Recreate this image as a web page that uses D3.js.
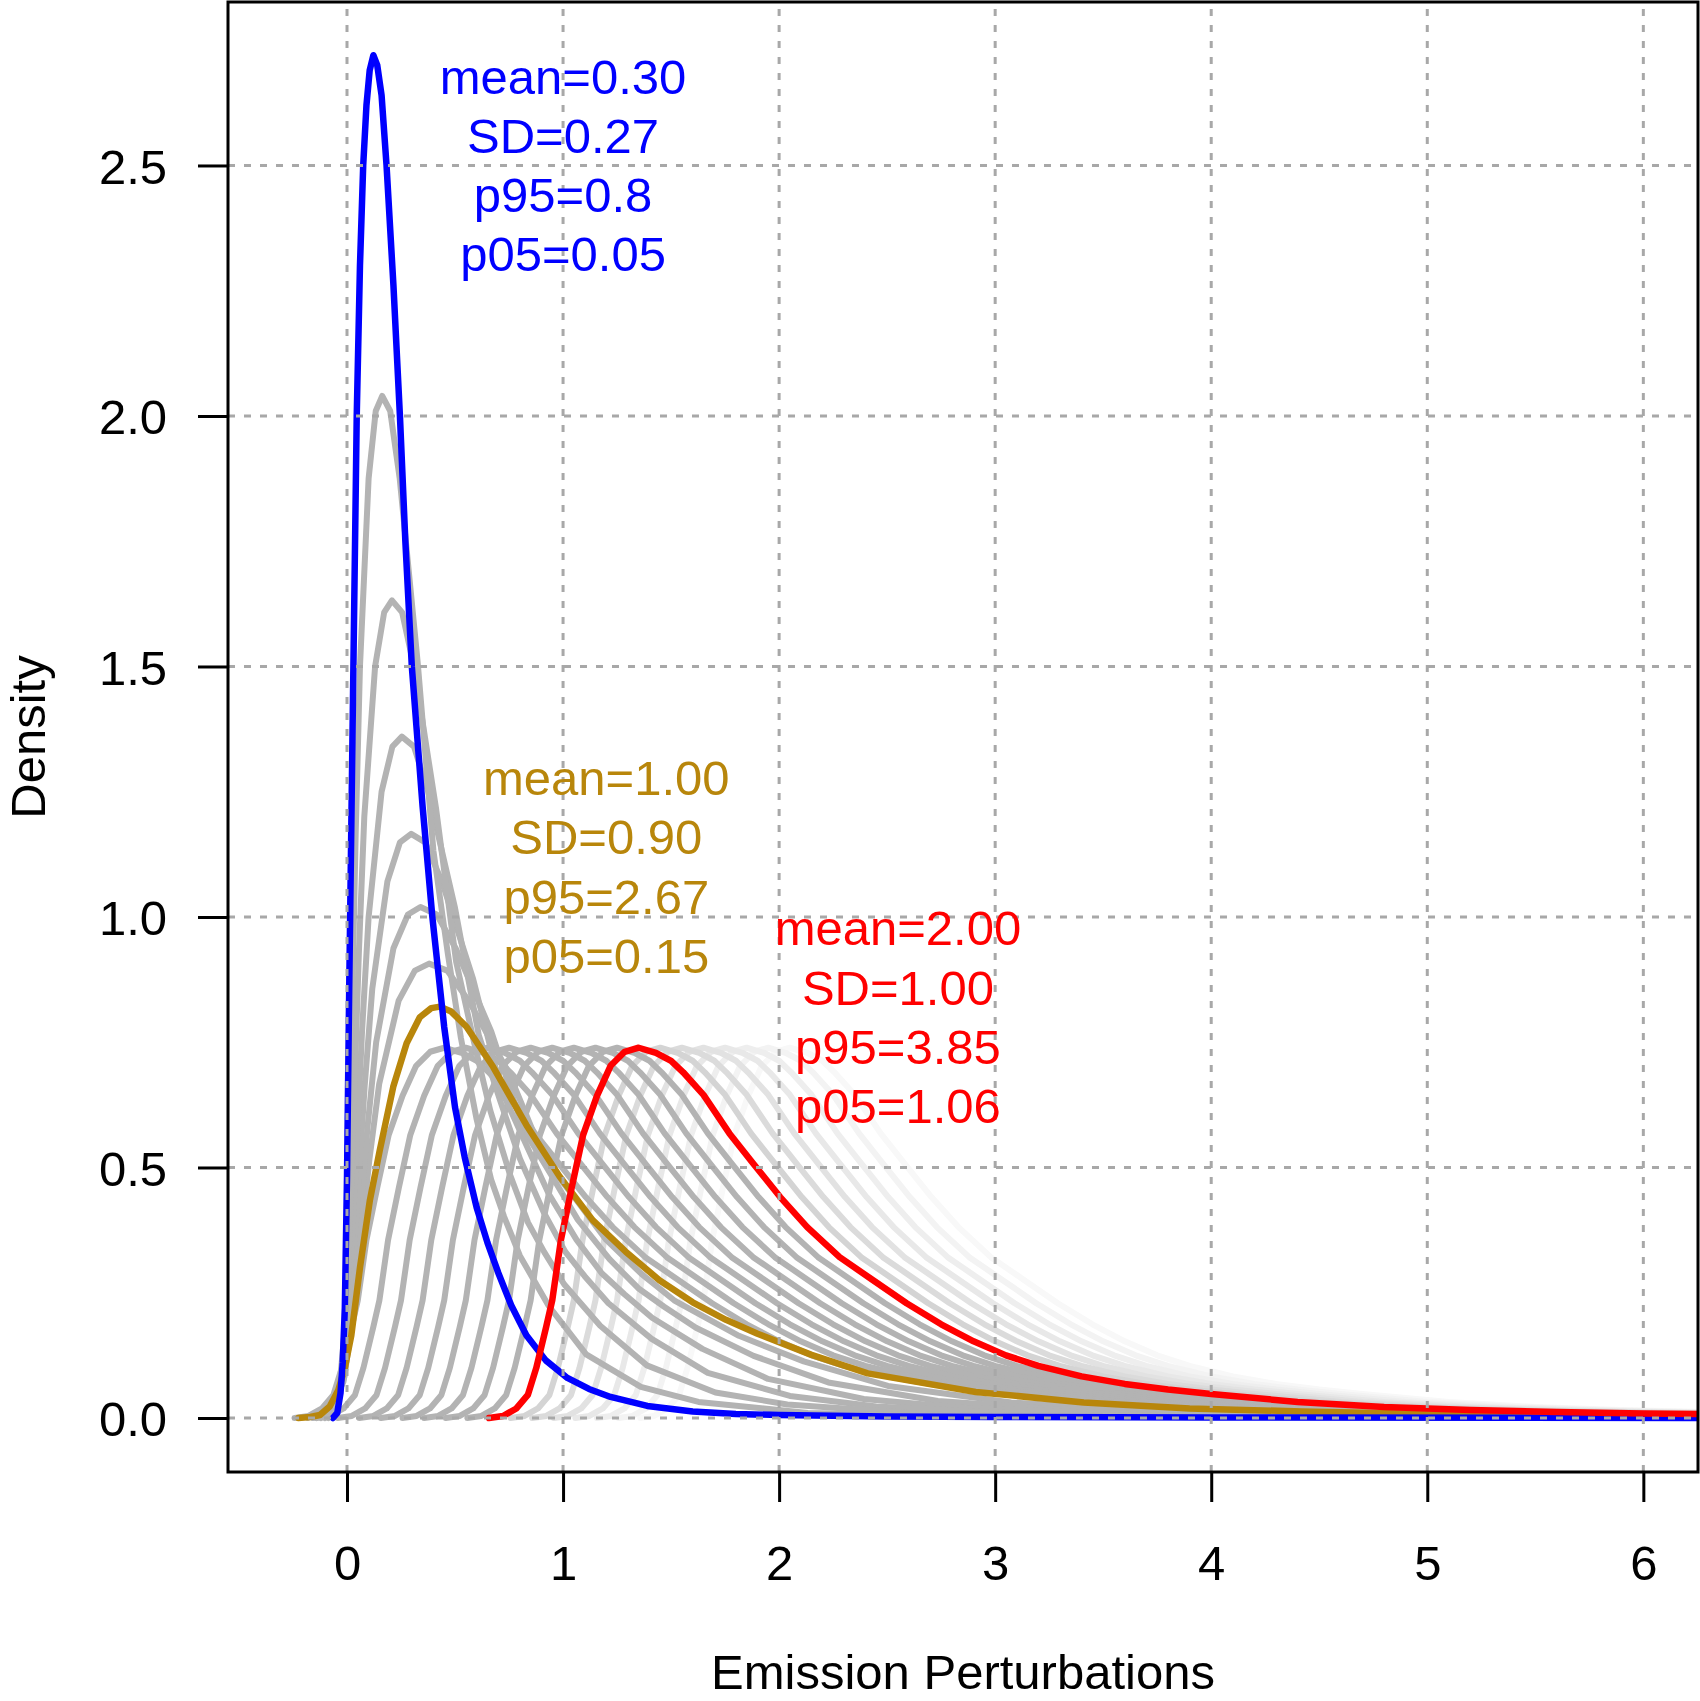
<!DOCTYPE html>
<html>
<head>
<meta charset="utf-8">
<script src="https://cdn.jsdelivr.net/npm/d3@7"></script>
<style>
  html, body { margin: 0; padding: 0; background: #fff; }
  svg { display: block; }
  text { font-family: "Liberation Sans", Arial, Helvetica, sans-serif; }
</style>
</head>
<body>
<script>
// Set Dimensions

const width = 1700; const height = 1701;
const plotLeft = 228, plotRight = 1698, plotTop = 2, plotBottom = 1472;

// Axis ticks

const xTicks = [0, 1, 2, 3, 4, 5, 6];
const yTicks = [0, 0.5, 1, 1.5, 2, 2.5];
const yTickLabels = ["0.0", "0.5", "1.0", "1.5", "2.0", "2.5"];

// Density curves, [x, density]

// blue, mean 0.30
const blueCurve = [
  [-0.065,0],[-0.045,0.01],[-0.03,0.05],[-0.02,0.11],[-0.01,0.22],[0.0,0.48],[0.01,0.85],
  [0.025,1.35],[0.045,2.0],[0.06,2.3],[0.075,2.5],[0.09,2.62],[0.105,2.69],[0.122,2.72],
  [0.14,2.70],[0.16,2.64],[0.183,2.5],[0.215,2.26],[0.245,2.0],[0.27,1.75],[0.30,1.5],
  [0.35,1.22],[0.395,1.0],[0.45,0.78],[0.50,0.62],[0.545,0.52],[0.60,0.42],[0.65,0.35],
  [0.70,0.29],[0.76,0.225],[0.83,0.165],[0.92,0.115],[1.02,0.08],[1.12,0.058],[1.22,0.042],
  [1.39,0.024],[1.6,0.013],[1.8,0.008],[2.0,0.006],[2.5,0.003],[3.0,0.002],[4.0,0.001],[6.4,0]
];

// gold, mean 1.00
const goldCurve = [
  [-0.225,0],[-0.17,0.002],[-0.125,0.006],[-0.08,0.023],[-0.04,0.056],[-0.01,0.10],[0.02,0.165],
  [0.06,0.30],[0.106,0.435],[0.152,0.535],[0.214,0.661],[0.276,0.748],[0.337,0.80],[0.39,0.818],
  [0.43,0.821],[0.48,0.812],[0.553,0.781],[0.676,0.701],[0.83,0.585],[0.984,0.482],[1.137,0.395],
  [1.29,0.332],[1.446,0.275],[1.60,0.231],[1.754,0.196],[1.9,0.168],[2.15,0.126],[2.41,0.089],
  [2.91,0.052],[3.41,0.031],[3.9,0.019],[4.42,0.013],[5.0,0.008],[5.6,0.006],[6.4,0.004]
];

// red, mean 2.00
const redCurve = [
  [0.657,0],[0.722,0.004],[0.784,0.019],[0.837,0.046],[0.876,0.10],[0.922,0.182],[0.95,0.235],
  [0.99,0.355],[1.04,0.46],[1.093,0.565],[1.157,0.643],[1.22,0.703],[1.285,0.731],[1.35,0.739],
  [1.43,0.729],[1.50,0.713],[1.556,0.69],[1.65,0.645],[1.77,0.568],[1.88,0.508],[2.005,0.441],
  [2.13,0.381],[2.28,0.321],[2.435,0.275],[2.59,0.229],[2.75,0.187],[2.9,0.153],[3.05,0.125],
  [3.2,0.104],[3.4,0.083],[3.6,0.068],[3.8,0.057],[4.0,0.048],[4.4,0.032],[4.8,0.022],
  [5.2,0.016],[5.6,0.012],[6.0,0.009],[6.4,0.007],[7.5,0.004]
];

// grey curves between blue and gold, means 0.4 ... 0.9
const steepGrays = [
  [[-0.087,0],[-0.04,0.038],[-0.013,0.165],[0.0,0.36],[0.02,0.75],[0.04,1.163],[0.06,1.5],[0.1,1.875],
   [0.133,2.01],[0.163,2.04],[0.2,2.01],[0.244,1.875],[0.327,1.509],[0.4,1.132],[0.467,0.926],
   [0.527,0.759],[0.6,0.596],[0.667,0.476],[0.727,0.402],[0.8,0.324],[0.933,0.224],[1.107,0.127],
   [1.36,0.062],[1.627,0.032],[2.133,0.010],[2.667,0.005],[4.0,0.0015],[6.4,0]],
  [[-0.103,0],[-0.045,0.03],[-0.012,0.132],[0.005,0.288],[0.03,0.6],[0.055,0.93],[0.08,1.2],[0.13,1.5],
   [0.172,1.608],[0.208,1.632],[0.255,1.608],[0.31,1.5],[0.413,1.214],[0.505,0.911],[0.588,0.750],
   [0.663,0.614],[0.755,0.485],[0.838,0.390],[0.913,0.331],[1.005,0.267],[1.172,0.184],[1.388,0.105],
   [1.705,0.051],[2.038,0.027],[2.672,0.008],[3.338,0.004],[5.005,0.0013],[6.4,0]],
  [[-0.12,0],[-0.05,0.025],[-0.01,0.11],[0.01,0.24],[0.04,0.5],[0.07,0.775],[0.1,1.0],[0.16,1.25],
   [0.21,1.34],[0.254,1.36],[0.31,1.34],[0.376,1.25],[0.5,1.018],[0.61,0.764],[0.71,0.632],
   [0.8,0.518],[0.91,0.411],[1.01,0.332],[1.1,0.283],[1.21,0.229],[1.41,0.158],[1.67,0.090],
   [2.05,0.044],[2.45,0.023],[3.21,0.007],[4.01,0.0033],[6.01,0.0011],[6.4,0]],
  [[-0.14,0],[-0.058,0.021],[-0.011,0.094],[0.012,0.206],[0.047,0.429],[0.082,0.664],[0.117,0.857],
   [0.187,1.071],[0.245,1.149],[0.297,1.166],[0.362,1.149],[0.439,1.071],[0.584,0.876],[0.712,0.657],
   [0.829,0.546],[0.934,0.447],[1.062,0.356],[1.179,0.289],[1.284,0.247],[1.412,0.200],[1.645,0.138],
   [1.949,0.078],[2.392,0.038],[2.859,0.020],[3.745,0.0062],[4.679,0.0029],[6.4,0.0008]],
  [[-0.158,0],[-0.065,0.019],[-0.012,0.0825],[0.015,0.18],[0.055,0.375],[0.095,0.581],[0.135,0.75],
   [0.215,0.9375],[0.282,1.005],[0.340,1.02],[0.415,1.005],[0.503,0.9375],[0.668,0.771],[0.815,0.578],
   [0.948,0.483],[1.068,0.396],[1.215,0.317],[1.348,0.259],[1.468,0.222],[1.615,0.180],[1.882,0.124],
   [2.228,0.071],[2.735,0.034],[3.268,0.018],[4.282,0.0056],[5.348,0.0026],[6.4,0.0008]],
  [[-0.181,0],[-0.076,0.017],[-0.016,0.073],[0.014,0.16],[0.059,0.333],[0.104,0.517],[0.149,0.667],
   [0.239,0.833],[0.314,0.893],[0.380,0.907],[0.464,0.893],[0.563,0.833],[0.749,0.689],[0.914,0.517],
   [1.064,0.434],[1.199,0.356],[1.364,0.287],[1.514,0.235],[1.649,0.203],[1.814,0.164],[2.114,0.113],
   [2.504,0.064],[3.074,0.031],[3.674,0.016],[4.814,0.005],[6.0,0.0023],[6.4,0.002]]
];

// grey curves with the red curve's shape, by mean
const shiftedMeans = [1.1, 1.2, 1.3, 1.4, 1.5, 1.6, 1.7, 1.8, 1.9];
const fadedMeans = [2.1, 2.2, 2.3, 2.4, 2.5, 2.6, 2.7];
const fadedColors = ["#d4d4d4", "#dbdbdb", "#e2e2e2", "#e8e8e8", "#eeeeee", "#f3f3f3", "#f8f8f8"];

// Annotations

const blueText = ["mean=0.30", "SD=0.27", "p95=0.8", "p05=0.05"];
const goldText = ["mean=1.00", "SD=0.90", "p95=2.67", "p05=0.15"];
const redText = ["mean=2.00", "SD=1.00", "p95=3.85", "p05=1.06"];

//Create the SVG

const svg = d3.select("body")
 .append("svg")
 .attr("width", width)
 .attr("height", height)
 .attr("viewBox", `0 0 ${width} ${height}`);

svg.append("rect").attr("width", width).attr("height", height).attr("fill", "#fff");

//Scales

const x = d3.scaleLinear()
 .domain([-0.5508, 6.253])
 .range([plotLeft, plotRight]);

const y = d3.scaleLinear()
 .domain([-0.1078, 2.8263])
 .range([plotBottom, plotTop]);

svg.append("clipPath").attr("id", "plotClip")
 .append("rect")
 .attr("x", plotLeft).attr("y", plotTop)
 .attr("width", plotRight - plotLeft).attr("height", plotBottom - plotTop);

const plot = svg.append("g").attr("clip-path", "url(#plotClip)");

const line = d3.line()
 .x(d => x(d[0]))
 .y(d => y(d[1]));

function drawCurve(data, color, w) {
  plot.append("path")
   .datum(data)
   .attr("fill", "none")
   .attr("stroke", color)
   .attr("stroke-width", w)
   .attr("stroke-linejoin", "round")
   .attr("stroke-linecap", "round")
   .attr("d", line);
}

// the red shape moved to another mean
function moved(mean) {
  return redCurve.map(d => [d[0] + (mean - 2.0), d[1]]);
}

// faded greys first (lightest at the back), then the grey family

for (let i = fadedMeans.length - 1; i >= 0; i--) {
  drawCurve(moved(fadedMeans[i]), fadedColors[i], 6);
}
for (let i = shiftedMeans.length - 1; i >= 0; i--) {
  drawCurve(moved(shiftedMeans[i]), "#b3b3b3", 6);
}
for (let i = steepGrays.length - 1; i >= 0; i--) {
  drawCurve(steepGrays[i], "#b3b3b3", 6);
}

//Grid, dotted

const grid = svg.append("g")
 .attr("stroke", "#a8a8a8")
 .attr("stroke-width", 3)
 .attr("stroke-dasharray", "7,9");

grid.selectAll(".vgrid")
 .data(xTicks)
 .join("line")
 .attr("x1", d => x(d)).attr("x2", d => x(d))
 .attr("y1", plotBottom).attr("y2", plotTop);

grid.selectAll(".hgrid")
 .data(yTicks)
 .join("line")
 .attr("x1", plotLeft).attr("x2", plotRight)
 .attr("y1", d => y(d)).attr("y2", d => y(d));

// highlighted curves on top

drawCurve(goldCurve, "#b8860b", 6.5);
drawCurve(blueCurve, "#0000ff", 6.5);
drawCurve(redCurve, "#ff0000", 6.5);

//Axes

const xAxis = svg.append("g")
 .attr("transform", `translate(0,${plotBottom})`)
 .call(d3.axisBottom(x).tickValues(xTicks).tickSize(30).tickFormat(d3.format("d")));

xAxis.select(".domain").remove();
xAxis.selectAll(".tick line").attr("stroke", "#000").attr("stroke-width", 3);
xAxis.selectAll(".tick text")
 .attr("y", 108).attr("dy", null)
 .attr("fill", "#000")
 .attr("font-size", 49)
 .attr("font-family", "Liberation Sans, Arial, sans-serif");

const yAxis = svg.append("g")
 .attr("transform", `translate(${plotLeft},0)`)
 .call(d3.axisLeft(y).tickValues(yTicks).tickSize(30).tickFormat((d, i) => yTickLabels[i]));

yAxis.select(".domain").remove();
yAxis.selectAll(".tick line").attr("stroke", "#000").attr("stroke-width", 3);
yAxis.selectAll(".tick text")
 .attr("x", -61).attr("dy", "0.36em")
 .attr("fill", "#000")
 .attr("font-size", 49)
 .attr("font-family", "Liberation Sans, Arial, sans-serif");

//Box

svg.append("rect")
 .attr("x", plotLeft).attr("y", plotTop)
 .attr("width", plotRight - plotLeft).attr("height", plotBottom - plotTop)
 .attr("fill", "none")
 .attr("stroke", "#000")
 .attr("stroke-width", 3);

//Axis titles (kept just inside the page edge)

svg.append("text")
 .attr("x", (plotLeft + plotRight) / 2)
 .attr("y", 1689)
 .attr("text-anchor", "middle")
 .attr("font-size", 49)
 .text("Emission Perturbations");

svg.append("text")
 .attr("transform", `translate(45,${(plotTop + plotBottom) / 2}) rotate(-90)`)
 .attr("text-anchor", "middle")
 .attr("font-size", 49)
 .text("Density");

//Annotations, one line per statistic, block centred on the anchor

const lineGap = 59.3;

function annotate(lines, ax, ay, color) {
  svg.append("g")
   .selectAll("text")
   .data(lines)
   .join("text")
   .attr("x", x(ax))
   .attr("y", (d, i) => y(ay) + (i - 1.5) * lineGap + 17)
   .attr("text-anchor", "middle")
   .attr("font-size", 49)
   .attr("fill", color)
   .text(d => d);
}

annotate(blueText, 1.0, 2.5, "#0000ff");
annotate(goldText, 1.2, 1.1, "#b8860b");
annotate(redText, 2.55, 0.8, "#ff0000");
</script>
</body>
</html>
